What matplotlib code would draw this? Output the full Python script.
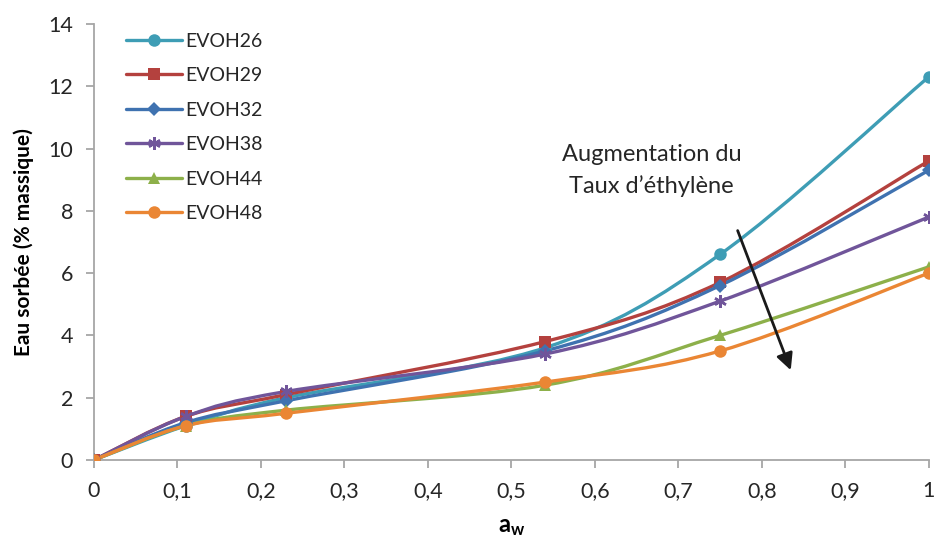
import matplotlib.pyplot as plt
from matplotlib.path import Path
from matplotlib.patches import PathPatch
from matplotlib.lines import Line2D
from matplotlib.ticker import FuncFormatter

plt.rcParams['font.family'] = ['Lato', 'DejaVu Sans']
plt.rcParams['mathtext.fontset'] = 'custom'
plt.rcParams['mathtext.bf'] = 'Lato:bold'
plt.rcParams['mathtext.rm'] = 'Lato'

aw = [0, 0.11, 0.23, 0.54, 0.75, 1.0]
evoh26 = [0, 1.1, 2.0, 3.6, 6.6, 12.3]
evoh29 = [0, 1.4, 2.1, 3.8, 5.7, 9.6]
evoh32 = [0, 1.2, 1.9, 3.5, 5.6, 9.3]
evoh38 = [0, 1.4, 2.2, 3.4, 5.1, 7.8]
evoh44 = [0, 1.1, 1.6, 2.4, 4.0, 6.2]
evoh48 = [0, 1.1, 1.5, 2.5, 3.5, 6.0]
labels = ['EVOH26', 'EVOH29', 'EVOH32', 'EVOH38', 'EVOH44', 'EVOH48']

series = [evoh26, evoh29, evoh32, evoh38, evoh44, evoh48]
colors = ['#3E9DB5', '#B4413E', '#3F72B0', '#70559A', '#8DB04A', '#EA8634']
markers = ['o', 's', 'D', (6, 2, 0), '^', 'o']
msizes = [9, 8.5, 7, 9, 9, 9]


def smooth_path(xs, ys):
    # Excel-like smoothing: cubic Bezier with Catmull-Rom control points
    pts = list(zip(xs, ys))
    verts = [pts[0]]
    codes = [Path.MOVETO]
    n = len(pts)
    for i in range(n - 1):
        p0 = pts[i - 1] if i > 0 else pts[i]
        p1 = pts[i]
        p2 = pts[i + 1]
        p3 = pts[i + 2] if i + 2 < n else pts[i + 1]
        c1 = (p1[0] + (p2[0] - p0[0]) / 6, p1[1] + (p2[1] - p0[1]) / 6)
        c2 = (p2[0] - (p3[0] - p1[0]) / 6, p2[1] - (p3[1] - p1[1]) / 6)
        verts += [c1, c2, p2]
        codes += [Path.CURVE4] * 3
    return Path(verts, codes)


fig = plt.figure(figsize=(9.38, 5.42), dpi=100)
ax = fig.add_axes([0.1002, 0.1513, 0.8898, 0.8044])

handles = []
for ys, c, m, ms, lab in zip(series, colors, markers, msizes, labels):
    ax.add_patch(PathPatch(smooth_path(aw, ys), fc='none', ec=c, lw=2.4,
                           capstyle='round', zorder=2))
    mew = 1.8 if isinstance(m, tuple) else 0
    ax.plot(aw, ys, ls='none', marker=m, ms=ms, color=c, mec=c, mew=mew, zorder=3)
    handles.append(Line2D([], [], color=c, lw=2.4, marker=m, ms=ms, mec=c, mew=mew,
                          solid_capstyle='round'))

ax.set_xlim(0, 1)
ax.set_ylim(0, 14)
ax.set_xticks([0, 0.1, 0.2, 0.3, 0.4, 0.5, 0.6, 0.7, 0.8, 0.9, 1])
ax.set_yticks(range(0, 15, 2))
ax.xaxis.set_major_formatter(FuncFormatter(lambda v, p: ('%g' % round(v, 1)).replace('.', ',')))
ax.tick_params(axis='both', direction='out', length=6, width=1.3, color='#A6A6A6',
               labelsize=15.5, labelcolor='#262626', pad=9)
for s in ['top', 'right']:
    ax.spines[s].set_visible(False)
for s in ['left', 'bottom']:
    ax.spines[s].set_color('#A6A6A6')
    ax.spines[s].set_linewidth(1.3)

ax.set_xlabel(r'$\mathbf{a_w}$', fontsize=17, labelpad=12)
ax.set_ylabel('Eau sorbée (% massique)', fontsize=15, fontweight='bold', labelpad=10)

leg = ax.legend(handles, labels, loc='upper left', bbox_to_anchor=(0.017, 1.02),
                frameon=False, fontsize=14, handlelength=2.9, labelspacing=0.9,
                handletextpad=0.15)
for t in leg.get_texts():
    t.set_color('#262626')

ax.text(0.668, 9.3, 'Augmentation du\nTaux d\u2019éthylène', ha='center', va='center',
        fontsize=17, color='#262626', linespacing=1.6)
ax.annotate('', xy=(0.836, 2.8), xytext=(0.770, 7.45),
            arrowprops=dict(arrowstyle='-|>', color='#1A1A1A', lw=2, mutation_scale=25))

fig.savefig('out.png', dpi=100)
